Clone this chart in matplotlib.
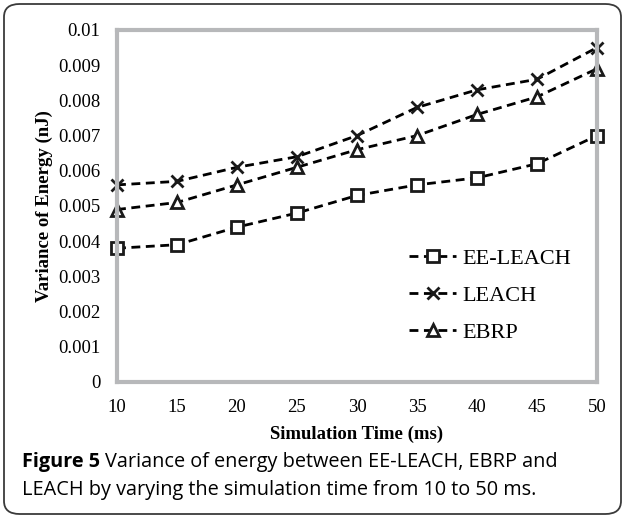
import matplotlib
matplotlib.use("Agg")
import matplotlib.pyplot as plt
from matplotlib.patches import FancyBboxPatch

# data
sim_time = [10, 15, 20, 25, 30, 35, 40, 45, 50]
ee_leach = [0.0038, 0.0039, 0.0044, 0.0048, 0.0053, 0.0056, 0.0058, 0.0062, 0.0070]
leach = [0.0056, 0.0057, 0.0061, 0.0064, 0.0070, 0.0078, 0.0083, 0.0086, 0.0095]
ebrp = [0.0049, 0.0051, 0.0056, 0.0061, 0.0066, 0.0070, 0.0076, 0.0081, 0.0089]
y_ticks = [0, 0.001, 0.002, 0.003, 0.004, 0.005, 0.006, 0.007, 0.008, 0.009, 0.01]
y_tick_labels = ["0", "0.001", "0.002", "0.003", "0.004", "0.005",
                 "0.006", "0.007", "0.008", "0.009", "0.01"]

serif = "Liberation Serif"
grey = "#b7b8ba"

fig = plt.figure(figsize=(6.25, 5.18), dpi=100)
ax = fig.add_axes([117 / 625, 1 - 382 / 518, 480 / 625, 352 / 518])

style = dict(color="black", linestyle=(0, (3.2, 2.0)), linewidth=2.0,
             markersize=8, markeredgewidth=2.0, markerfacecolor="white",
             markeredgecolor="#1a1a1a", clip_on=False)
ax.plot(sim_time, ee_leach, marker="s", label="EE-LEACH", **style)
ax.plot(sim_time, leach, marker="x", label="LEACH", **style)
ax.plot(sim_time, ebrp, marker="^", label="EBRP", **style)

ax.set_xlim(10, 50)
ax.set_ylim(0, 0.01)
ax.set_xticks(sim_time)
ax.set_xticklabels([str(t) for t in sim_time], fontfamily=serif, fontsize=13.5)
ax.set_yticks(y_ticks)
ax.set_yticklabels(y_tick_labels, fontfamily=serif, fontsize=13.5)
ax.tick_params(axis="x", length=0, pad=12.5)
ax.tick_params(axis="y", length=0, pad=12)

for side in ["left", "right", "top", "bottom"]:
    ax.spines[side].set_color(grey)
    ax.spines[side].set_linewidth(3)

ax.set_xlabel("Simulation Time (ms)", fontfamily=serif, fontsize=13.5,
              fontweight="bold", labelpad=7)
ax.set_ylabel("Variance of Energy (nJ)", fontfamily=serif, fontsize=13.5,
              fontweight="bold", labelpad=4)

leg = ax.legend(loc="lower right", bbox_to_anchor=(0.979, 0.066), frameon=False,
                prop={"family": serif, "size": 16}, handlelength=2.1,
                labelspacing=0.75, handletextpad=0.3, borderaxespad=0.3)

# caption below the chart
cap_font = "Open Sans"
cap_size = 14.3
t1 = fig.text(22 / 625, 1 - 462 / 518, "Figure 5", fontfamily=cap_font,
              fontsize=cap_size, fontweight="bold", va="center")
fig.canvas.draw()
bb = t1.get_window_extent()
fig.text(bb.x1 / fig.bbox.width + 0.008, 1 - 462 / 518,
         "Variance of energy between EE-LEACH, EBRP and",
         fontfamily=cap_font, fontsize=cap_size, va="center")
fig.text(22 / 625, 1 - 490 / 518,
         "LEACH by varying the simulation time from 10 to 50 ms.",
         fontfamily=cap_font, fontsize=cap_size, va="center")

border = FancyBboxPatch((4 / 625, 4 / 518), 617 / 625, 510 / 518,
                        boxstyle="round,pad=0,rounding_size=0.025",
                        transform=fig.transFigure, facecolor="none",
                        edgecolor="#3a3a3a", linewidth=1.3)
fig.patches.append(border)

fig.savefig("out.png", dpi=100)
